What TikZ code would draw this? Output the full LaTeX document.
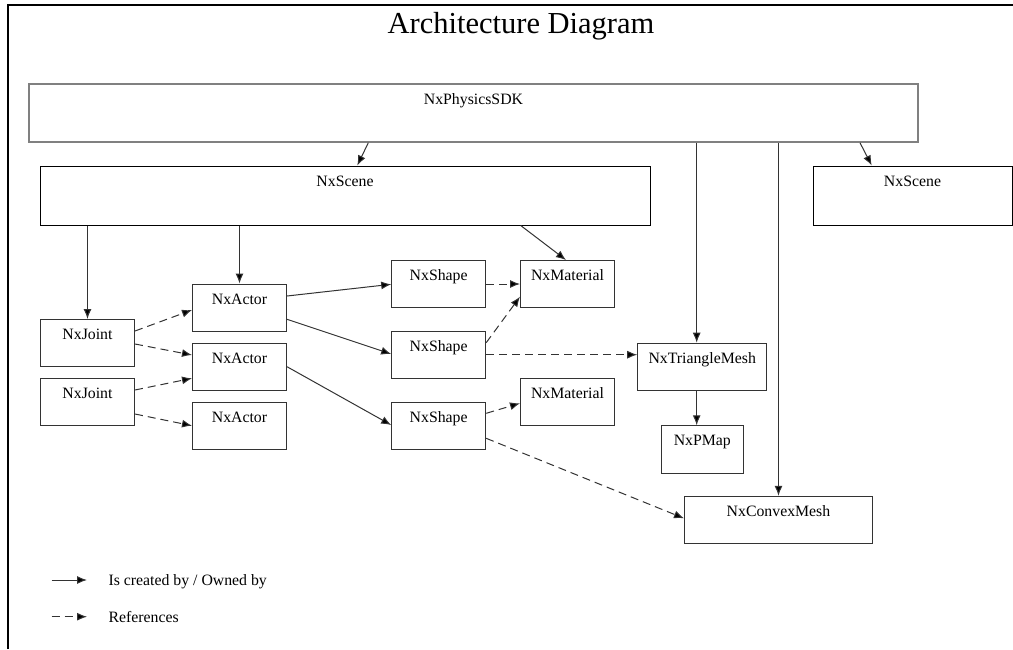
\documentclass[tikz,border=0pt]{standalone}
\usepackage{fontspec}
\setmainfont{Liberation Serif}
\usetikzlibrary{arrows.meta,calc}
\definecolor{edgegray}{HTML}{333333}
\definecolor{sdkgray}{HTML}{808080}
\tikzset{
  box/.style={draw=edgegray, line width=1pt, rectangle, inner xsep=0pt, inner ysep=0pt,
    text height=20pt, font=\fontsize{15.8}{19}\selectfont},
  own/.style={draw=edgegray, line width=1pt, -{Latex[length=10pt,width=8pt,fill=black]}},
  refs/.style={own, dash pattern=on 8pt off 5pt},
}
\begin{document}
\begin{tikzpicture}[x=1pt,y=-1pt]
\useasboundingbox (0,0) rectangle (1013,649);
% frame
\draw[line width=1.5pt] (8,649) -- (8,5) -- (1013,5);
% title
\node[anchor=base, font=\fontsize{30.5}{36}\selectfont, inner sep=0pt] (title) at (521,33.3) {Architecture Diagram};
% boxes
\node[box, draw=sdkgray, line width=1.5pt, minimum width=889pt, minimum height=58pt, text depth=38pt] (sdk) at (473.5,113) {NxPhysicsSDK};
\node[box, draw=black, minimum width=610pt, minimum height=59pt, text depth=39pt] (scene1) at (345,195.5) {NxScene};
\node[box, draw=black, minimum width=199pt, minimum height=59pt, text depth=39pt] (scene2) at (912.5,195.5) {NxScene};
\node[box, minimum width=94pt, minimum height=47pt, text depth=27pt] (joint1) at (87.5,343) {NxJoint};
\node[box, minimum width=94pt, minimum height=47pt, text depth=27pt] (joint2) at (87.5,401.7) {NxJoint};
\node[box, minimum width=94pt, minimum height=47pt, text depth=27pt] (actor1) at (239.5,307.5) {NxActor};
\node[box, minimum width=94pt, minimum height=47pt, text depth=27pt] (actor2) at (239.5,366.7) {NxActor};
\node[box, minimum width=94pt, minimum height=47pt, text depth=27pt] (actor3) at (239.5,425.7) {NxActor};
\node[box, minimum width=94pt, minimum height=47pt, text depth=27pt] (shape1) at (438.7,284) {NxShape};
\node[box, minimum width=94pt, minimum height=47pt, text depth=27pt] (shape2) at (438.7,354.7) {NxShape};
\node[box, minimum width=94pt, minimum height=47pt, text depth=27pt] (shape3) at (438.7,425.7) {NxShape};
\node[box, minimum width=94pt, minimum height=47pt, text depth=27pt] (mat1) at (567.5,284) {NxMaterial};
\node[box, minimum width=94pt, minimum height=47pt, text depth=27pt] (mat2) at (567.5,401.7) {NxMaterial};
\node[box, minimum width=129pt, minimum height=47pt, text depth=27pt] (tri) at (702.2,366.7) {NxTriangleMesh};
\node[box, minimum width=82pt, minimum height=47.5pt, text depth=27.5pt] (pmap) at (702.3,449.5) {NxPMap};
\node[box, minimum width=188pt, minimum height=47pt, text depth=27pt] (convex) at (778.5,519.8) {NxConvexMesh};
% ownership connectors
\draw[own] ([xshift=-105.2pt]sdk.south) -- ([xshift=12.3pt]scene1.north);
\draw[own] ([xshift=386.5pt]sdk.south) -- ([xshift=-40.8pt]scene2.north);
\draw[own] ([xshift=223.2pt]sdk.south) -- ([xshift=223.2pt]sdk.south |- tri.north);
\draw[own] (sdk.south -| convex.north) -- (convex.north);
\draw[own] (scene1.south -| joint1.north) -- (joint1.north);
\draw[own] (scene1.south -| actor1.north) -- (actor1.north);
\draw[own] ([xshift=175.7pt]scene1.south) -- ([xshift=-1.5pt]mat1.north);
\draw[own] ([yshift=11.5pt]actor1.east) -- ([yshift=-0.3pt]shape1.west);
\draw[own] ([yshift=-11.8pt]actor1.east) -- ([yshift=0.7pt]shape2.west);
\draw[own] (actor2.east) -- ([yshift=0.7pt]shape3.west);
\draw[own] ([xshift=-5.5pt]tri.south) -- ([xshift=-5.6pt]pmap.north);
% reference connectors
\draw[refs] ([yshift=12pt]joint1.east) -- ([yshift=-2.5pt]actor1.west);
\draw[refs] ([yshift=-1pt]joint1.east) -- ([yshift=11.7pt]actor2.west);
\draw[refs] ([yshift=11.7pt]joint2.east) -- ([yshift=-11.6pt]actor2.west);
\draw[refs] ([yshift=-12.3pt]joint2.east) -- (actor3.west);
\draw[refs] (shape1.east) -- (mat1.west);
\draw[refs] ([yshift=12pt]shape2.east) -- ([yshift=-12.7pt]mat1.west);
\draw[refs] (shape2.east) -- (shape2.east -| tri.west);
\draw[refs] ([yshift=12.4pt]shape3.east) -- ([yshift=-1.6pt]mat2.west);
\draw[refs] ([yshift=-12.6pt]shape3.east) -- ([yshift=1.5pt]convex.west);
% legend
\coordinate (la1) at (51.7,580);
\coordinate (lb1) at (87,580);
\coordinate (la2) at (51.7,616.7);
\coordinate (lb2) at (87,616.7);
\draw[own] (la1) -- (lb1);
\draw[refs] (la2) -- (lb2);
\node[anchor=base west, inner sep=0pt, font=\fontsize{15.8}{19}\selectfont] (leg1) at (108.3,585.7) {Is created by / Owned by};
\node[anchor=base west, inner sep=0pt, font=\fontsize{15.8}{19}\selectfont] (leg2) at (108.3,622.3) {References};
\end{tikzpicture}
\end{document}
